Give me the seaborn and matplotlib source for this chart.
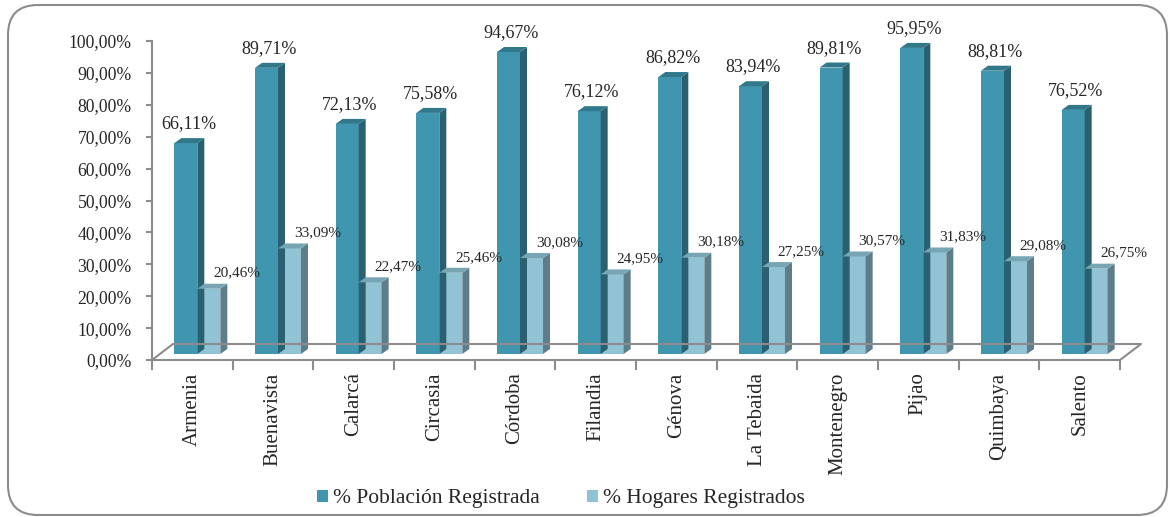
import numpy as np
import pandas as pd
import matplotlib
matplotlib.use('Agg')
import matplotlib.pyplot as plt
from matplotlib.patches import Polygon, Patch, FancyBboxPatch
import seaborn as sns

municipios = ['Armenia', 'Buenavista', 'Calarcá', 'Circasia', 'Córdoba', 'Filandia',
              'Génova', 'La Tebaida', 'Montenegro', 'Pijao', 'Quimbaya', 'Salento']
poblacion = [66.11, 89.71, 72.13, 75.58, 94.67, 76.12, 86.82, 83.94, 89.81, 95.95, 88.81, 76.52]
hogares = [20.46, 33.09, 22.47, 25.46, 30.08, 24.95, 30.18, 27.25, 30.57, 31.83, 29.08, 26.75]
series = ['% Población Registrada', '% Hogares Registrados']
yticks = [0, 10, 20, 30, 40, 50, 60, 70, 80, 90, 100]

# front / side / top colours for each series
front = ['#4196AF', '#92C3D5']
side = ['#2A606F', '#5D7D8A']
top = ['#30788A', '#78A5B4']
gray = '#8C8C8C'

df = pd.DataFrame({
    'municipio': municipios * 2,
    'valor': poblacion + hogares,
    'serie': [series[0]] * len(municipios) + [series[1]] * len(municipios),
})

sns.set_style('white')
plt.rcParams['font.family'] = ['Liberation Serif', 'DejaVu Serif']

W, H = 1170, 517
fig = plt.figure(figsize=(W / 100, H / 100), dpi=100)
x0, x1, y0, y1 = 152, 1120, 360, 41
ax = fig.add_axes([x0 / W, 1 - y0 / H, (x1 - x0) / W, (y0 - y1) / H])

sns.barplot(data=df, x='municipio', y='valor', hue='serie', palette=front,
            width=0.57, saturation=1, edgecolor='none', legend=False, ax=ax)
n = len(municipios)
ax.set_xlim(-0.5, n - 0.5)
ax.set_ylim(0, 100)

# pixel -> data conversions
px_x = n / (x1 - x0)
px_y = 100 / (y0 - y1)

# bars sit a little behind the front plane
sx, sy = 5 * px_x, 6 * px_y
ddx, ddy = 7 * px_x, 5 * px_y
for k, cont in enumerate(ax.containers):
    for p in cont.patches:
        h = p.get_height()
        p.set_x(p.get_x() + sx)
        p.set_y(sy)
        xa = p.get_x()
        xb = xa + p.get_width()
        yt = sy + h
        ax.add_patch(Polygon([(xb, sy), (xb + ddx, sy + ddy), (xb + ddx, yt + ddy), (xb, yt)],
                             closed=True, facecolor=side[k], edgecolor='none', zorder=p.get_zorder()))
        ax.add_patch(Polygon([(xa, yt), (xa + ddx, yt + ddy), (xb + ddx, yt + ddy), (xb, yt)],
                             closed=True, facecolor=top[k], edgecolor='none', zorder=p.get_zorder()))
        xc = xa + p.get_width() / 2
        if k == 0:
            ax.annotate(f'{h:.2f}%'.replace('.', ','), (xc, h), xytext=(2, 15),
                        textcoords='offset points', ha='center', va='baseline', fontsize=13)
        else:
            ax.annotate(f'{h:.2f}%'.replace('.', ','), (xc, h), xytext=(20, 13),
                        textcoords='offset points', ha='center', va='baseline', fontsize=11)

# 3D floor outline
fdx, fdy = 21 * px_x, 16 * px_y
ax.plot([-0.5, -0.5 + fdx, n - 0.5 + fdx, n - 0.5], [0, fdy, fdy, 0],
        color=gray, lw=1.5, clip_on=False, zorder=1)

for s in ['top', 'right']:
    ax.spines[s].set_visible(False)
for s in ['left', 'bottom']:
    ax.spines[s].set_color(gray)
    ax.spines[s].set_linewidth(1.5)

ax.set_yticks(yticks)
ax.set_yticklabels([f'{v:.2f}%'.replace('.', ',') for v in yticks], fontsize=12.7)
ax.tick_params(axis='y', direction='out', length=4.5, width=1.5, color=gray, pad=10, left=True)

ax.set_xticks(np.arange(-0.5, n, 1.0))
ax.set_xticklabels([])
ax.set_xticks(np.arange(n), minor=True)
ax.set_xticklabels(municipios, minor=True, rotation=90, fontsize=15, va='top')
ax.tick_params(axis='x', which='major', direction='out', length=7, width=1.5, color=gray, bottom=True)
ax.tick_params(axis='x', which='minor', length=0, pad=9)
ax.set_xlabel('')
ax.set_ylabel('')

handles = [Patch(facecolor=front[i], edgecolor='none', label=series[i]) for i in range(2)]
fig.legend(handles=handles, loc='center', bbox_to_anchor=(561 / W, 1 - 499 / H), ncol=2,
           frameon=False, fontsize=15.5, handlelength=0.5, handleheight=0.5,
           handletextpad=0.25, columnspacing=2.2)

border = FancyBboxPatch((8, 2), 1159, 510, boxstyle='round,pad=0,rounding_size=30',
                        transform=None, facecolor='none', edgecolor=gray, lw=1.5)
fig.add_artist(border)

fig.savefig('out.png', dpi=100)
